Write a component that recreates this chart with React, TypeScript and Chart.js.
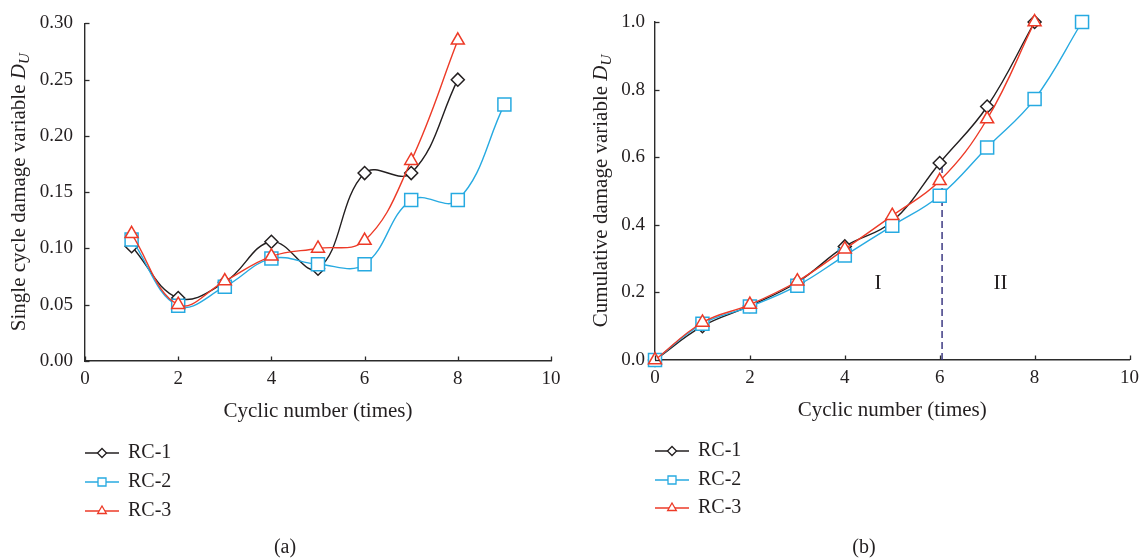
import React, { useEffect, useRef } from 'react';
import { Chart, registerables } from 'chart.js';

Chart.register(...registerables);

// ---------- data ----------
const seriesNames = ['RC-1', 'RC-2', 'RC-3'];

// (a) single cycle damage variable
const cyclesA1 = [1, 2, 3, 4, 5, 6, 7, 8];
const singleRC1 = [0.102, 0.056, 0.070, 0.106, 0.082, 0.167, 0.167, 0.250];
const cyclesA2 = [1, 2, 3, 4, 5, 6, 7, 8, 9];
const singleRC2 = [0.108, 0.049, 0.066, 0.091, 0.086, 0.086, 0.143, 0.143, 0.228];
const cyclesA3 = [1, 2, 3, 4, 5, 6, 7, 8];
const singleRC3 = [0.113, 0.050, 0.071, 0.093, 0.100, 0.107, 0.178, 0.285];

// (b) cumulative damage variable
const cyclesB1 = [0, 1, 2, 3, 4, 5, 6, 7, 8];
const cumRC1 = [0, 0.100, 0.160, 0.230, 0.336, 0.410, 0.583, 0.750, 1.0];
const cyclesB2 = [0, 1, 2, 3, 4, 5, 6, 7, 8, 9];
const cumRC2 = [0, 0.107, 0.158, 0.220, 0.309, 0.397, 0.486, 0.629, 0.772, 1.0];
const cyclesB3 = [0, 1, 2, 3, 4, 5, 6, 7, 8];
const cumRC3 = [0, 0.111, 0.164, 0.233, 0.328, 0.427, 0.530, 0.713, 1.0];

// divider and region labels in (b)
const dividerX = [6.05, 6.05];
const dividerY = [0, 0.583];
const regionLabels = ['I', 'II'];
const regionX = [4.7, 7.28];
const regionY = [0.225, 0.225];

// axes
const xMin = 0, xMax = 10, xStep = 2;
const yMinA = 0, yMaxA = 0.3, yStepA = 0.05;
const yMinB = 0, yMaxB = 1.0, yStepB = 0.2;

// ---------- style ----------
const SERIF = '"Liberation Serif", "DejaVu Serif", serif';
const TEXT = '#231f20';
const AXIS = '#2b2b2b';
const COLORS = ['#231f20', '#27aae1', '#ed3a27'];
const STYLES = ['rectRot', 'rect', 'triangle'];
const RADII = [6.5, 9.2, 7.5];

const zip = (xs: number[], ys: number[]) => xs.map((x, i) => ({ x, y: ys[i] }));

function drawMarker(ctx: CanvasRenderingContext2D, style: string, x: number, y: number, color: string) {
  ctx.save();
  ctx.strokeStyle = color;
  ctx.fillStyle = '#fff';
  ctx.lineWidth = 1.3;
  ctx.beginPath();
  if (style === 'rectRot') {
    const r = 4.5;
    ctx.moveTo(x - r, y); ctx.lineTo(x, y - r); ctx.lineTo(x + r, y); ctx.lineTo(x, y + r); ctx.closePath();
  } else if (style === 'rect') {
    const h = 4;
    ctx.rect(x - h, y - h, 2 * h, 2 * h);
  } else {
    const r = 5;
    ctx.moveTo(x, y - r); ctx.lineTo(x + r * 0.866, y + r * 0.5); ctx.lineTo(x - r * 0.866, y + r * 0.5); ctx.closePath();
  }
  ctx.fill();
  ctx.stroke();
  ctx.restore();
}

interface Decor {
  xTitle: string;
  xTitleY: number;
  yTitle: string;
  yTitleX: number;
  legendY: number[];
  caption: string;
  captionX: number;
  captionY: number;
  regions?: boolean;
}

function makeDecor(cfg: Decor) {
  return {
    id: 'decor',
    afterDraw(chart: any) {
      const ctx: CanvasRenderingContext2D = chart.ctx;
      const { left, right, top, bottom } = chart.chartArea;
      const xs = chart.scales.x;
      const ys = chart.scales.y;
      ctx.save();
      // inward tick marks
      ctx.strokeStyle = AXIS;
      ctx.lineWidth = 1.3;
      xs.ticks.forEach((t: any) => {
        const px = Math.round(xs.getPixelForValue(t.value)) + 0.5;
        ctx.beginPath(); ctx.moveTo(px, bottom); ctx.lineTo(px, bottom - 4.5); ctx.stroke();
      });
      ys.ticks.forEach((t: any) => {
        const py = Math.round(ys.getPixelForValue(t.value)) + 0.5;
        ctx.beginPath(); ctx.moveTo(left, py); ctx.lineTo(left + 4.5, py); ctx.stroke();
      });

      ctx.fillStyle = TEXT;
      // x title
      ctx.font = `21px ${SERIF}`;
      ctx.textAlign = 'center';
      ctx.textBaseline = 'middle';
      ctx.fillText(cfg.xTitle, (left + right) / 2, cfg.xTitleY);

      // region labels
      if (cfg.regions) {
        regionLabels.forEach((lab, i) => {
          ctx.fillText(lab, xs.getPixelForValue(regionX[i]), ys.getPixelForValue(regionY[i]));
        });
      }

      // y title with italic D and subscript U
      ctx.save();
      ctx.translate(cfg.yTitleX, (top + bottom) / 2);
      ctx.rotate(-Math.PI / 2);
      ctx.textAlign = 'left';
      ctx.textBaseline = 'alphabetic';
      ctx.font = `21px ${SERIF}`;
      const w1 = ctx.measureText(cfg.yTitle).width;
      ctx.font = `italic 21px ${SERIF}`;
      const w2 = ctx.measureText('D').width;
      ctx.font = `italic 15px ${SERIF}`;
      const w3 = ctx.measureText('U').width;
      let x0 = -(w1 + w2 + w3) / 2;
      ctx.font = `21px ${SERIF}`;
      ctx.fillText(cfg.yTitle, x0, 7);
      x0 += w1;
      ctx.font = `italic 21px ${SERIF}`;
      ctx.fillText('D', x0, 7);
      x0 += w2;
      ctx.font = `italic 15px ${SERIF}`;
      ctx.fillText('U', x0, 11);
      ctx.restore();

      // legend
      seriesNames.forEach((name, i) => {
        const y = cfg.legendY[i];
        ctx.strokeStyle = COLORS[i];
        ctx.lineWidth = 1.4;
        ctx.beginPath(); ctx.moveTo(left, y); ctx.lineTo(left + 34, y); ctx.stroke();
        drawMarker(ctx, STYLES[i], left + 17, y, COLORS[i]);
        ctx.fillStyle = TEXT;
        ctx.font = `20px ${SERIF}`;
        ctx.textAlign = 'left';
        ctx.textBaseline = 'middle';
        ctx.fillText(name, left + 43, y);
      });

      // caption
      ctx.font = `20px ${SERIF}`;
      ctx.textAlign = 'center';
      ctx.textBaseline = 'middle';
      ctx.fillText(cfg.caption, cfg.captionX, cfg.captionY);
      ctx.restore();
    },
  };
}

function lineDataset(i: number, data: { x: number; y: number }[]) {
  return {
    label: seriesNames[i],
    data,
    borderColor: COLORS[i],
    backgroundColor: '#ffffff',
    borderWidth: 1.4,
    pointStyle: STYLES[i],
    pointRadius: RADII[i],
    pointHoverRadius: RADII[i],
    pointBackgroundColor: '#ffffff',
    pointBorderColor: COLORS[i],
    pointBorderWidth: 1.5,
    tension: 0.4,
    fill: false,
    clip: false as any,
    order: 3 - i,
  };
}

function makeOptions(p: {
  padLeft: number; padRight: number; padTop: number; padBottom: number;
  yMin: number; yMax: number; yStep: number; yDigits: number; yPad: number;
}) {
  return {
    animation: false as const,
    responsive: false,
    maintainAspectRatio: false,
    events: [] as any[],
    layout: { padding: { left: p.padLeft, right: p.padRight, top: p.padTop, bottom: p.padBottom } },
    plugins: { legend: { display: false }, tooltip: { enabled: false } },
    scales: {
      x: {
        type: 'linear' as const,
        min: xMin,
        max: xMax,
        afterFit: (s: any) => { s.height = 40; },
        grid: { display: false, drawTicks: false },
        border: { display: true, color: AXIS, width: 1.4 },
        ticks: { stepSize: xStep, padding: 7, color: TEXT, font: { family: SERIF, size: 19 } },
      },
      y: {
        type: 'linear' as const,
        min: p.yMin,
        max: p.yMax,
        afterFit: (s: any) => { s.width = 45; },
        grid: { display: false, drawTicks: false },
        border: { display: true, color: AXIS, width: 1.4 },
        ticks: {
          stepSize: p.yStep,
          padding: p.yPad,
          color: TEXT,
          font: { family: SERIF, size: 19 },
          callback: (v: any) => Number(v).toFixed(p.yDigits),
        },
      },
    },
  };
}

export default function App() {
  const refA = useRef<HTMLCanvasElement>(null);
  const refB = useRef<HTMLCanvasElement>(null);

  useEffect(() => {
    const chartA = new Chart(refA.current as HTMLCanvasElement, {
      type: 'line',
      data: {
        datasets: [
          lineDataset(0, zip(cyclesA1, singleRC1)),
          lineDataset(1, zip(cyclesA2, singleRC2)),
          lineDataset(2, zip(cyclesA3, singleRC3)),
        ] as any,
      },
      options: makeOptions({
        padLeft: 40, padRight: 22, padTop: 22, padBottom: 158,
        yMin: yMinA, yMax: yMaxA, yStep: yStepA, yDigits: 2, yPad: 12,
      }) as any,
      plugins: [makeDecor({
        xTitle: 'Cyclic number (times)',
        xTitleY: 411,
        yTitle: 'Single cycle damage variable ',
        yTitleX: 18,
        legendY: [453, 482, 511],
        caption: '(a)',
        captionX: 285,
        captionY: 548,
      })],
    });

    const chartB = new Chart(refB.current as HTMLCanvasElement, {
      type: 'line',
      data: {
        datasets: [
          lineDataset(0, zip(cyclesB1, cumRC1)),
          lineDataset(1, zip(cyclesB2, cumRC2)),
          lineDataset(2, zip(cyclesB3, cumRC3)),
          {
            label: 'divider',
            data: zip(dividerX, dividerY),
            borderColor: '#2e2a7a',
            borderWidth: 1.4,
            borderDash: [7, 4],
            pointRadius: 0,
            tension: 0,
            fill: false,
            order: 10,
          },
        ] as any,
      },
      options: makeOptions({
        padLeft: 37, padRight: 14, padTop: 22, padBottom: 159,
        yMin: yMinB, yMax: yMaxB, yStep: yStepB, yDigits: 1, yPad: 10,
      }) as any,
      plugins: [makeDecor({
        xTitle: 'Cyclic number (times)',
        xTitleY: 410,
        yTitle: 'Cumulative damage variable ',
        yTitleX: 27,
        legendY: [451, 480, 508],
        caption: '(b)',
        captionX: 291,
        captionY: 548,
        regions: true,
      })],
    });

    return () => {
      chartA.destroy();
      chartB.destroy();
    };
  }, []);

  return (
    <div style={{ position: 'absolute', left: 0, top: 0, width: 1146, height: 559, background: '#ffffff' }}>
      <canvas ref={refA} width={573} height={559} style={{ position: 'absolute', left: 0, top: 0 }} />
      <canvas ref={refB} width={573} height={559} style={{ position: 'absolute', left: 573, top: 0 }} />
    </div>
  );
}
